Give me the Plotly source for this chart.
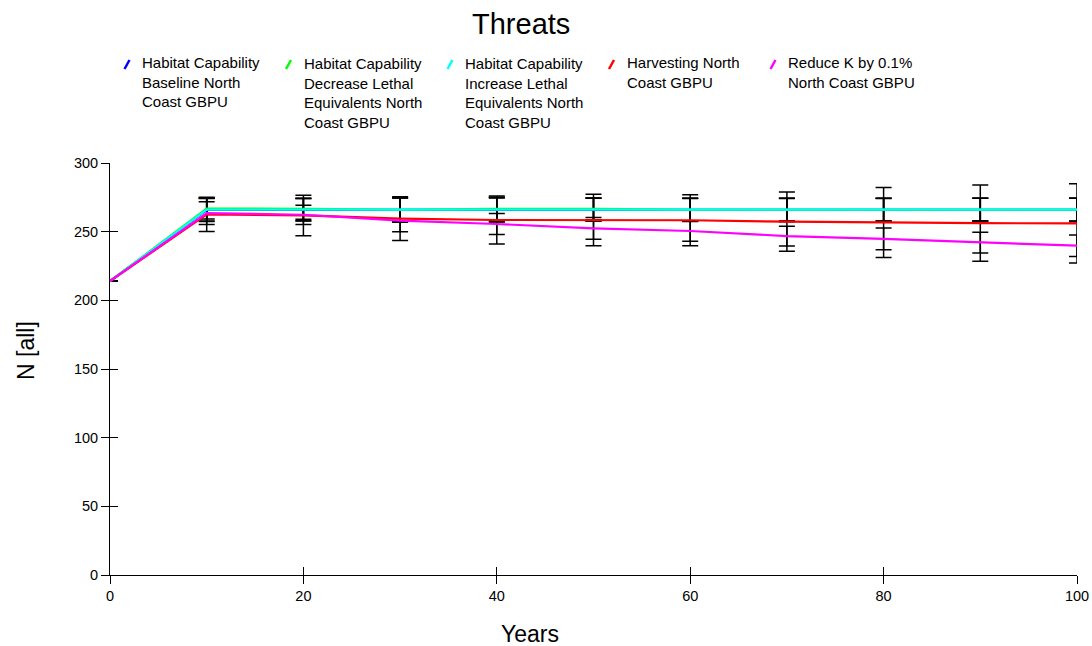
import plotly.graph_objects as go

# Simulated population size (mean N and standard deviation) per scenario, every 10 years
years = [0, 10, 20, 30, 40, 50, 60, 70, 80, 90, 100]

series_names = [
    "Habitat Capability<br>Baseline North<br>Coast GBPU",
    "Habitat Capability<br>Decrease Lethal<br>Equivalents North<br>Coast GBPU",
    "Habitat Capability<br>Increase Lethal<br>Equivalents North<br>Coast GBPU",
    "Harvesting North<br>Coast GBPU",
    "Reduce K by 0.1%<br>North Coast GBPU",
]
series_colors = ["#0000FF", "#00FF00", "#00FFFF", "#FF0000", "#FF00FF"]

baseline_n = [214, 265.8, 265.9, 265.7, 265.8, 265.9, 265.8, 265.7, 265.8, 265.9, 265.8]
decrease_le_n = [214, 266.8, 266.7, 266.0, 266.6, 266.6, 266.0, 266.0, 266.0, 266.0, 266.0]
increase_le_n = [214, 266.0, 266.0, 266.0, 266.0, 266.0, 266.0, 266.0, 266.0, 266.0, 266.0]
harvesting_n = [214, 262.6, 261.8, 259.5, 258.5, 258.5, 258.3, 257.3, 256.6, 256.2, 256.0]
reduce_k_n = [214, 263.5, 262.3, 258.0, 255.6, 252.4, 250.5, 246.8, 244.7, 242.0, 239.8]

baseline_sd = [0, 8.4, 8.2, 8.8, 8.8, 8.4, 8.4, 8.4, 8.4, 8.4, 8.5]
decrease_le_sd = [0, 7.6, 7.6, 8.6, 8.4, 8.0, 8.3, 8.3, 8.3, 8.3, 8.3]
increase_le_sd = [0, 8.3, 8.1, 8.8, 8.8, 8.4, 8.3, 8.3, 8.3, 8.3, 8.4]
harvesting_sd = [0, 12.5, 14.8, 16.0, 17.5, 18.7, 18.5, 21.5, 25.5, 27.8, 28.8]
reduce_k_sd = [0, 8.3, 7.0, 8.0, 7.6, 8.0, 7.5, 7.2, 7.9, 7.5, 7.8]

y_ticks = [0, 50, 100, 150, 200, 250, 300]
x_ticks = [0, 20, 40, 60, 80, 100]

means = [baseline_n, decrease_le_n, increase_le_n, harvesting_n, reduce_k_n]
sds = [baseline_sd, decrease_le_sd, increase_le_sd, harvesting_sd, reduce_k_sd]

FONT = "Liberation Sans, Arial, sans-serif"
W, H = 1092, 646
ML, MR, MT, MB = 110, 15, 163, 71
PW, PH = W - ML - MR, H - MT - MB


def px(x):
    return (x - ML) / PW


def py(y):
    return (H - MB - y) / PH


fig = go.Figure()

# error bars (black) behind the scenario lines
for m, s in zip(means, sds):
    fig.add_trace(go.Scatter(
        x=years, y=m, mode="markers", marker=dict(size=0.1, color="rgba(0,0,0,0)"),
        error_y=dict(type="data", array=s, visible=True, color="black",
                     thickness=1.5, width=8),
        showlegend=False, hoverinfo="skip"))

for name, color, m in zip(series_names, series_colors, means):
    fig.add_trace(go.Scatter(
        x=years, y=m, mode="lines", name=name.replace("<br>", " "),
        line=dict(color=color, width=2.2), showlegend=False))

# empty trace carrying the overlaid axes that give the inward half of each tick
fig.add_trace(go.Scatter(x=[None], y=[None], xaxis="x2", yaxis="y2",
                         showlegend=False, hoverinfo="skip"))

axis_common = dict(showgrid=False, zeroline=False, tickcolor="black",
                   tickwidth=1, ticklen=8, automargin=False)

fig.update_layout(
    template="none",
    width=W, height=H,
    margin=dict(l=ML, r=MR, t=MT, b=MB),
    paper_bgcolor="white", plot_bgcolor="white",
    font=dict(family=FONT, color="black", size=14.5),
    xaxis=dict(range=[0, 100], tickvals=x_ticks, ticks="outside",
               showline=True, linecolor="black", linewidth=1,
               tickfont=dict(size=14.5), **axis_common),
    yaxis=dict(range=[0, 300], tickvals=y_ticks, ticks="outside",
               showline=True, linecolor="black", linewidth=1,
               tickfont=dict(size=14.5), **axis_common),
    xaxis2=dict(range=[0, 100], tickvals=x_ticks, ticks="inside",
                overlaying="x", anchor="y", side="bottom",
                showticklabels=False, showline=False, **axis_common),
    yaxis2=dict(range=[0, 300], tickvals=y_ticks, ticks="inside",
                overlaying="y", anchor="x", side="left",
                showticklabels=False, showline=False, **axis_common),
    showlegend=False,
)

annotations = [
    dict(text="Threats", x=px(521), y=py(24), xref="paper", yref="paper",
         xanchor="center", yanchor="middle", showarrow=False,
         font=dict(size=29, family=FONT)),
    dict(text="Years", x=px(530), y=py(634), xref="paper", yref="paper",
         xanchor="center", yanchor="middle", showarrow=False,
         font=dict(size=23, family=FONT)),
    dict(text="N [all]", x=px(26), y=py(351), xref="paper", yref="paper",
         xanchor="center", yanchor="middle", showarrow=False, textangle=-90,
         font=dict(size=23, family=FONT)),
]

# legend: coloured slash followed by the wrapped scenario name
shapes = []
for i, (name, color) in enumerate(zip(series_names, series_colors)):
    tx = 140 + i * 161.5
    annotations.append(dict(
        text=name, x=px(tx), y=py(52.5), xref="paper", yref="paper",
        xanchor="left", yanchor="top", align="left", showarrow=False,
        font=dict(size=15, family=FONT)))
    shapes.append(dict(
        type="line", xref="paper", yref="paper",
        x0=px(tx - 15.5), y0=py(69), x1=px(tx - 10.5), y1=py(60),
        line=dict(color=color, width=2.5)))

fig.update_layout(annotations=annotations, shapes=shapes)

fig.write_html("out.html")
